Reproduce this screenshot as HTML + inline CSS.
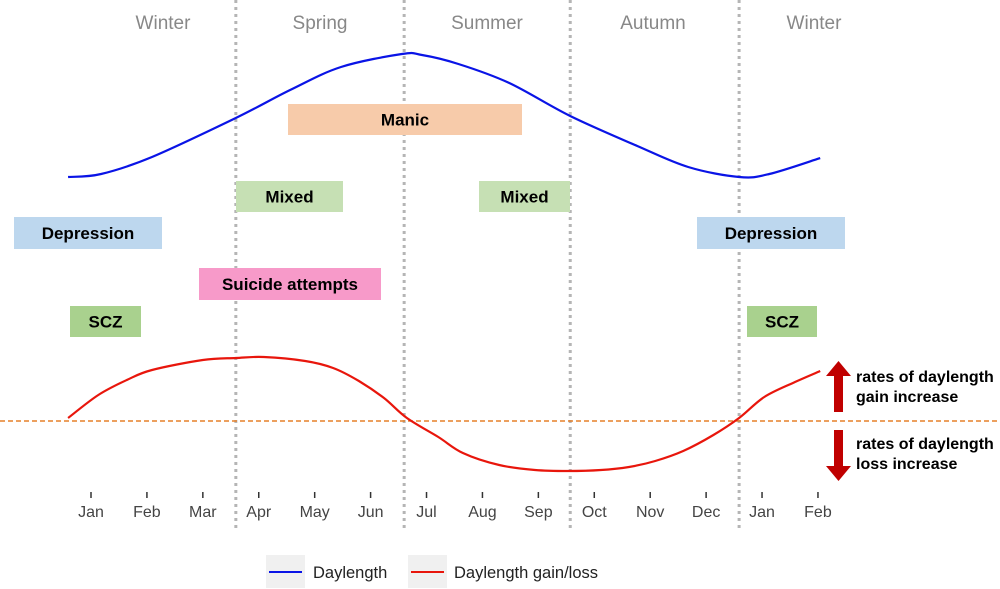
<!DOCTYPE html>
<html><head><meta charset="utf-8"><style>
body{margin:0;background:#fff;font-family:"Liberation Sans",sans-serif;}
svg{display:block}
.sea{font-size:19px;fill:#888;text-anchor:middle}
.box text{font-size:17px;font-weight:bold;text-anchor:middle;fill:#000}
.tk{font-size:16px;fill:#444;text-anchor:middle}
.ann{font-size:16px;font-weight:bold;fill:#000}
</style></head><body>
<svg id="chart" width="1000" height="589" viewBox="0 0 1000 589">
<g id="dividers"></g>
<g id="seasons"></g>
<g id="boxes"></g>
<line x1="0" x2="1000" y1="421" y2="421" stroke="#e5802a" stroke-width="1.5" stroke-dasharray="5,3"/>
<path id="blue" fill="none" stroke="#0a14e6" stroke-width="2.2"/>
<path id="red" fill="none" stroke="#e8160c" stroke-width="2.2"/>
<g id="ticks"></g>
<g><rect x="834" y="374" width="9" height="38" fill="#c00000"/><polygon points="826,376 838.5,361 851,376" fill="#c00000"/></g>
<g><rect x="834" y="430" width="9" height="38" fill="#c00000"/><polygon points="826,466 838.5,481 851,466" fill="#c00000"/></g>
<text class="ann" x="856" y="382"><tspan x="856">rates of daylength</tspan><tspan x="856" dy="20">gain increase</tspan></text>
<text class="ann" x="856" y="449"><tspan x="856">rates of daylength</tspan><tspan x="856" dy="20">loss increase</tspan></text>
<g>
<rect x="266" y="555" width="39" height="33" fill="#f0f0f0"/>
<line x1="269" x2="302" y1="572" y2="572" stroke="#0a14e6" stroke-width="2"/>
<text x="313" y="578" font-size="16.5" fill="#222">Daylength</text>
<rect x="408" y="555" width="39" height="33" fill="#f0f0f0"/>
<line x1="411" x2="444" y1="572" y2="572" stroke="#e8160c" stroke-width="2"/>
<text x="454" y="578" font-size="16.5" fill="#222">Daylength gain/loss</text>
</g>
</svg>
<script>
const monthLabels=["Jan","Feb","Mar","Apr","May","Jun","Jul","Aug","Sep","Oct","Nov","Dec","Jan","Feb"];
const blueMonths=[-0.41,0.18,1.09,2.59,3.56,4.47,5.56,5.92,6.57,7.48,8.57,9.77,10.68,11.59,12.13,13.04];
const blueValues=[0,2.4,16.3,48,70.7,89.4,100,99.2,91.9,76.4,49.6,25.2,8.1,0,2.4,15.4];
const redMonths=[-0.41,0.13,0.64,1.09,2.0,2.59,3.09,3.83,4.33,4.79,5.24,5.65,6.21,6.65,7.30,7.94,8.53,9.12,9.62,10.09,10.59,11.13,11.59,12.04,12.59,13.04];
const redValues=[4.7,40.6,64,79.7,95.3,98.4,100,93.8,82.8,62.5,35.9,4.7,-25,-50,-68.8,-76.6,-78.1,-76.6,-71.9,-62.5,-46.9,-21.9,4.7,37.5,60.9,78.1];
const seasonNames=["Winter","Spring","Summer","Autumn","Winter"];
const seasonBounds=[2.59,5.6,8.57,11.59];
const ns="http://www.w3.org/2000/svg";
const X=m=>91+m*55.92;
const YB=v=>177-v*1.23;
const YR=v=>421-v*0.64;
function mk(t,a,p){const e=document.createElementNS(ns,t);for(const k in a)e.setAttribute(k,a[k]);p.appendChild(e);return e;}
function smooth(xs,ys){let d="M"+xs[0]+","+ys[0];for(let i=0;i<xs.length-1;i++){const x0=xs[Math.max(i-1,0)],y0=ys[Math.max(i-1,0)],x3=xs[Math.min(i+2,xs.length-1)],y3=ys[Math.min(i+2,ys.length-1)];const c1x=xs[i]+(xs[i+1]-x0)/6,c1y=ys[i]+(ys[i+1]-y0)/6,c2x=xs[i+1]-(x3-xs[i])/6,c2y=ys[i+1]-(y3-ys[i])/6;d+=` C${c1x.toFixed(1)},${c1y.toFixed(1)} ${c2x.toFixed(1)},${c2y.toFixed(1)} ${xs[i+1].toFixed(1)},${ys[i+1].toFixed(1)}`;}return d;}
document.getElementById('blue').setAttribute('d',smooth(blueMonths.map(X),blueValues.map(YB)));
document.getElementById('red').setAttribute('d',smooth(redMonths.map(X),redValues.map(YR)));
const dv=document.getElementById('dividers');
seasonBounds.forEach(b=>{const l=mk('line',{x1:X(b),x2:X(b),y1:0,y2:528,stroke:'#b5b5b5','stroke-width':3,'stroke-dasharray':'3,4'},dv);

});
const sg=document.getElementById('seasons');
const sx=[163,320,487,653,814];
seasonNames.forEach((s,i)=>{const t=mk('text',{x:sx[i],y:29,class:'sea'},sg);t.textContent=s;

});
const tg=document.getElementById('ticks');
monthLabels.forEach((m,i)=>{const x=X(i);mk('line',{x1:x,x2:x,y1:492,y2:498,stroke:'#333','stroke-width':1.5},tg);
const t=mk('text',{x:x,y:517,class:'tk'},tg);t.textContent=m;

});
const boxes=[["Manic",288,104,234,31,"#f7cbaa"],["Mixed",236,181,107,31,"#c6e0b4"],["Mixed",479,181,91,31,"#c6e0b4"],["Depression",14,217,148,32,"#bdd7ee"],["Depression",697,217,148,32,"#bdd7ee"],["Suicide attempts",199,268,182,32,"#f79ac9"],["SCZ",70,306,71,31,"#a9d18e"],["SCZ",747,306,70,31,"#a9d18e"]];
const bg=document.getElementById('boxes');
boxes.forEach(b=>{const g=mk('g',{class:'box'},bg);


mk('rect',{x:b[1],y:b[2],width:b[3],height:b[4],fill:b[5]},g);
const t=mk('text',{x:b[1]+b[3]/2,y:b[2]+b[4]/2+6},g);t.textContent=b[0];});
</script>
</body></html>
